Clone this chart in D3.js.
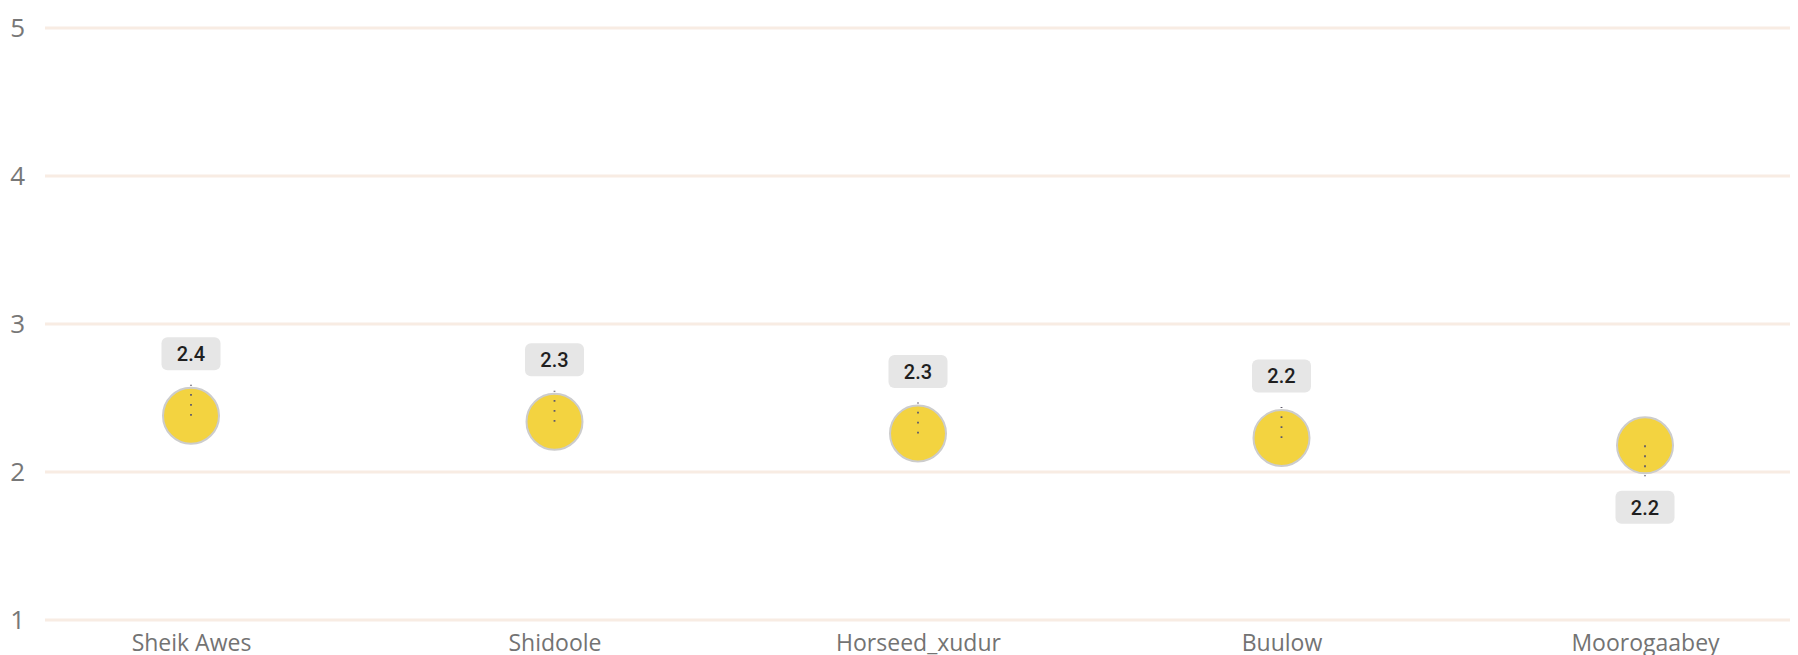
<!DOCTYPE html>
<html>
<head>
<meta charset="utf-8">
<script src="https://cdn.jsdelivr.net/npm/d3@7"></script>
<style>
  html, body { margin: 0; padding: 0; background: #ffffff; }
  svg { display: block; }
</style>
</head>
<body>
<svg id="chart" width="1798" height="655"></svg>
<script>
// Average score per site
const categories = ["Sheik Awes", "Shidoole", "Horseed_xudur", "Buulow", "Moorogaabey"];
const scores = [2.38, 2.34, 2.26, 2.23, 2.18];
const yTicks = [1, 2, 3, 4, 5];

const W = 1798, H = 655;
const svg = d3.select("#chart");

const x = d3.scalePoint().domain(categories).range([191, 1645]);
const y = d3.scaleLinear().domain([1, 5]).range([620, 28]);

// horizontal gridlines
svg.append("g")
  .selectAll("line")
  .data(yTicks)
  .join("line")
  .attr("x1", 45).attr("x2", 1790)
  .attr("y1", d => y(d)).attr("y2", d => y(d))
  .attr("stroke", "#f8ece3")
  .attr("stroke-width", 3);

// y axis labels
const yAxis = svg.append("g")
  .attr("transform", "translate(25,0)")
  .call(d3.axisLeft(y).tickValues(yTicks).tickFormat(d3.format("d")).tickSize(0).tickPadding(0));
yAxis.select(".domain").remove();
yAxis.selectAll("text")
  .attr("font-family", "'Open Sans', sans-serif")
  .attr("font-size", 26)
  .attr("fill", "#777777");

// x axis labels
const xAxis = svg.append("g")
  .attr("transform", "translate(0,630)")
  .call(d3.axisBottom(x).tickSize(0).tickPadding(0));
xAxis.select(".domain").remove();
xAxis.selectAll("text")
  .attr("dy", null)
  .attr("y", 21)
  .attr("font-family", "'Open Sans', sans-serif")
  .attr("font-size", 23)
  .attr("fill", "#737373");

const fmt = d3.format(".1f");
const r = 28;
const labelOffset = 62;
// the lowest point carries its label underneath
const minScore = d3.min(scores);
const side = d => (d.v === minScore ? 1 : -1);

const pts = categories.map((c, i) => ({ c, v: scores[i] }));

const g = svg.append("g");

g.selectAll("circle.dot")
  .data(pts)
  .join("circle")
  .attr("class", "dot")
  .attr("cx", d => x(d.c))
  .attr("cy", d => y(d.v))
  .attr("r", r)
  .attr("fill", "#f3d340")
  .attr("stroke", "#cccccc")
  .attr("stroke-width", 2);

// dotted leader toward the data label
g.selectAll("line.leader")
  .data(pts)
  .join("line")
  .attr("class", "leader")
  .attr("x1", d => x(d.c)).attr("x2", d => x(d.c))
  .attr("y1", d => y(d.v))
  .attr("y2", d => y(d.v) + side(d) * 31)
  .attr("stroke", "#5f5a6a")
  .attr("stroke-width", 1.8)
  .attr("stroke-dasharray", "1.8 8.2");

const lbl = g.selectAll("g.lbl")
  .data(pts)
  .join("g")
  .attr("class", "lbl")
  .attr("transform", d => `translate(${x(d.c)},${y(d.v) + side(d) * labelOffset})`);

lbl.append("rect")
  .attr("x", -29.5).attr("y", -16.5)
  .attr("width", 59).attr("height", 33)
  .attr("rx", 6).attr("ry", 6)
  .attr("fill", "#e6e6e6");

lbl.append("text")
  .attr("text-anchor", "middle")
  .attr("dy", "0.36em")
  .attr("font-family", "Roboto, sans-serif")
  .attr("font-weight", 500)
  .attr("font-size", 20)
  .attr("fill", "#1f1f1f")
  .text(d => fmt(d.v));
</script>
</body>
</html>
